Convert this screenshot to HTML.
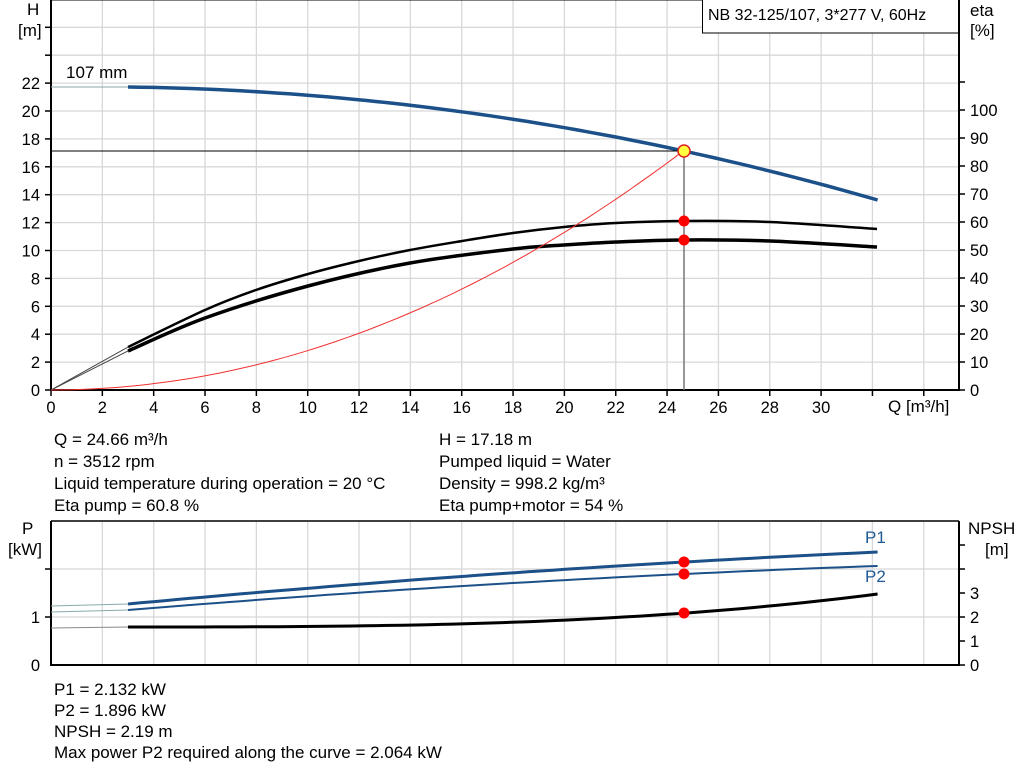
<!DOCTYPE html>
<html><head><meta charset="utf-8"><style>
html,body{margin:0;padding:0;background:#fff;}
svg{display:block;font-family:"Liberation Sans",Arial,sans-serif;}
</style></head><body>
<svg id="s" width="1024" height="781" viewBox="0 0 1024 781" xmlns="http://www.w3.org/2000/svg">
<g id="grid" stroke="#d8d8d8" stroke-width="1.3"></g>
<g id="axes"></g>
<g id="curves" fill="none"></g>
<g font-size="17" fill="#000">
<text x="27" y="15">H</text><text x="18" y="36">[m]</text>
<text x="970" y="16">eta</text><text x="970" y="36">[%]</text>
<text x="66" y="78">107 mm</text>
<text x="888" y="412">Q [m³/h]</text>
<text x="54" y="445">Q = 24.66 m³/h</text>
<text x="54" y="467">n = 3512 rpm</text>
<text x="54" y="489">Liquid temperature during operation = 20 °C</text>
<text x="54" y="511">Eta pump = 60.8 %</text>
<text x="439" y="445">H = 17.18 m</text>
<text x="439" y="467">Pumped liquid = Water</text>
<text x="439" y="489">Density = 998.2 kg/m³</text>
<text x="439" y="511">Eta pump+motor = 54 %</text>
<text x="22" y="534">P</text><text x="8" y="555">[kW]</text>
<text x="968" y="534">NPSH</text><text x="985" y="555">[m]</text>
<text x="865" y="543" fill="#1f5a96">P1</text>
<text x="865" y="582" fill="#1f5a96">P2</text>
<text x="54" y="695">P1 = 2.132 kW</text>
<text x="54" y="716">P2 = 1.896 kW</text>
<text x="54" y="737">NPSH = 2.19 m</text>
<text x="54" y="758">Max power P2 required along the curve = 2.064 kW</text>
</g>
<rect x="702.5" y="-1" width="256" height="34" fill="#fff" stroke="#000" stroke-width="1"/>
<text x="708" y="20" font-size="16">NB 32-125/107, 3*277 V, 60Hz</text>
</svg>
<script>
const NS="http://www.w3.org/2000/svg";
function el(p,t,a,txt){const e=document.createElementNS(NS,t);for(const k in a)e.setAttribute(k,a[k]);if(txt!==undefined)e.textContent=txt;document.getElementById(p).appendChild(e);return e;}
const X=q=>51+q*25.67;
const g='grid';
for(let q=2;q<=34;q+=2){el(g,'line',{x1:X(q),y1:0,x2:X(q),y2:390});el(g,'line',{x1:X(q),y1:521,x2:X(q),y2:665});}
for(let h=2;h<=26;h+=2){const y=390-h*13.95;el(g,'line',{x1:51,y1:y,x2:959,y2:y});}
el(g,'line',{x1:51,y1:569,x2:959,y2:569});el(g,'line',{x1:51,y1:617,x2:959,y2:617});
const A='axes';
const L=(x1,y1,x2,y2,w)=>el(A,'line',{x1,y1,x2,y2,stroke:'#000','stroke-width':w||2});
L(51,0,51,391);L(959,0,959,391);L(50,390,960,390);L(51,0,959,0,1);
L(51,521,51,666);L(959,521,959,666);L(50,665,960,665);L(51,521,959,521,1.5);
function T(x,y,s,anchor){el(A,'text',{x,y,'font-size':16.5,'text-anchor':anchor||'start'},s);}
for(let h=0;h<=26;h+=2){const y=390-h*13.95;L(45,y,51,y,1.5);if(h<=22)T(40,y+6,h,'end');}
for(let e=0;e<=110;e+=10){const y=390-e*2.8;L(959,y,965,y,1.5);if(e<=100)T(970,y+6,e);}
for(let q=0;q<=34;q+=2){L(X(q),390,X(q),396,1.5);if(q<=30)T(X(q),413,q,'middle');}
L(45,617,51,617,1.5);L(45,569,51,569,1.5);T(40,623,'1','end');T(40,671,'0','end');
for(let n=0;n<=5;n++){const y=665-n*24;L(959,y,965,y,1.5);if(n<=3)T(970,y+6,n);}
const C='curves';
function path(f,q0,q1,st){let d='';for(let i=0;i<=60;i++){const q=q0+(q1-q0)*i/60;d+=(i?'L':'M')+X(q).toFixed(1)+','+f(q).toFixed(1);}return el(C,'path',Object.assign({d},st));}
const H=q=>{const t=q-3;return 87+0.331*t+0.1212*t*t;};
path(H,3,32.2,{stroke:'#1c5089','stroke-width':3.5});
el(C,'line',{x1:51,y1:87,x2:128,y2:87,stroke:'#8aa','stroke-width':1});
function cr(pts,st){let d='M'+pts[0];for(let i=0;i<pts.length-1;i++){const p0=pts[Math.max(0,i-1)],p1=pts[i],p2=pts[i+1],p3=pts[Math.min(pts.length-1,i+2)];const c1=[p1[0]+(p2[0]-p0[0])/6,p1[1]+(p2[1]-p0[1])/6],c2=[p2[0]-(p3[0]-p1[0])/6,p2[1]-(p3[1]-p1[1])/6];d+='C'+c1+' '+c2+' '+p2;}el(C,'path',Object.assign({d},st));}
cr([[128,347],[205,310],[256,290],[308,274],[359,261],[410,250],[462,241],[513,233],[564,227],[616,223],[684,221],[770,222],[877,229]],{stroke:'#000','stroke-width':2.5});
cr([[128,351],[205,318],[308,286],[410,263],[513,249],[564,245],[616,242],[684,240],[770,241],[877,247]],{stroke:'#000','stroke-width':3.5});
el(C,'line',{x1:51,y1:390,x2:128,y2:347,stroke:'#444','stroke-width':1});
el(C,'line',{x1:51,y1:390,x2:128,y2:351,stroke:'#444','stroke-width':1});
path(q=>390-0.02825*q*q*13.95,0,24.66,{stroke:'#f03030','stroke-width':1});
el(C,'line',{x1:51,y1:151,x2:684,y2:151,stroke:'#000','stroke-width':1});
el(C,'line',{x1:684,y1:151,x2:684,y2:390,stroke:'#777','stroke-width':1.5});
path(q=>{const t=q-3;return 604-2.393*t+0.021*t*t;},3,32.2,{stroke:'#1c5089','stroke-width':3});
path(q=>{const t=q-3;return 610-2.107*t+0.02055*t*t;},3,32.2,{stroke:'#1c5089','stroke-width':2});
path(q=>627-33*Math.pow((q-3)/29.2,2.9),3,32.2,{stroke:'#000','stroke-width':3});
el(C,'line',{x1:51,y1:606,x2:128,y2:604,stroke:'#8aa','stroke-width':1});
el(C,'line',{x1:51,y1:612,x2:128,y2:610,stroke:'#8aa','stroke-width':1});
el(C,'line',{x1:51,y1:628,x2:128,y2:627,stroke:'#888','stroke-width':1});
for(const y of [221,240,562,574,613])el(C,'circle',{cx:684,cy:y,r:5.5,fill:'#f00'});
el(C,'circle',{cx:684,cy:151,r:6,fill:'#ffff40',stroke:'#e02020','stroke-width':1.5});
</script>
</body></html>
